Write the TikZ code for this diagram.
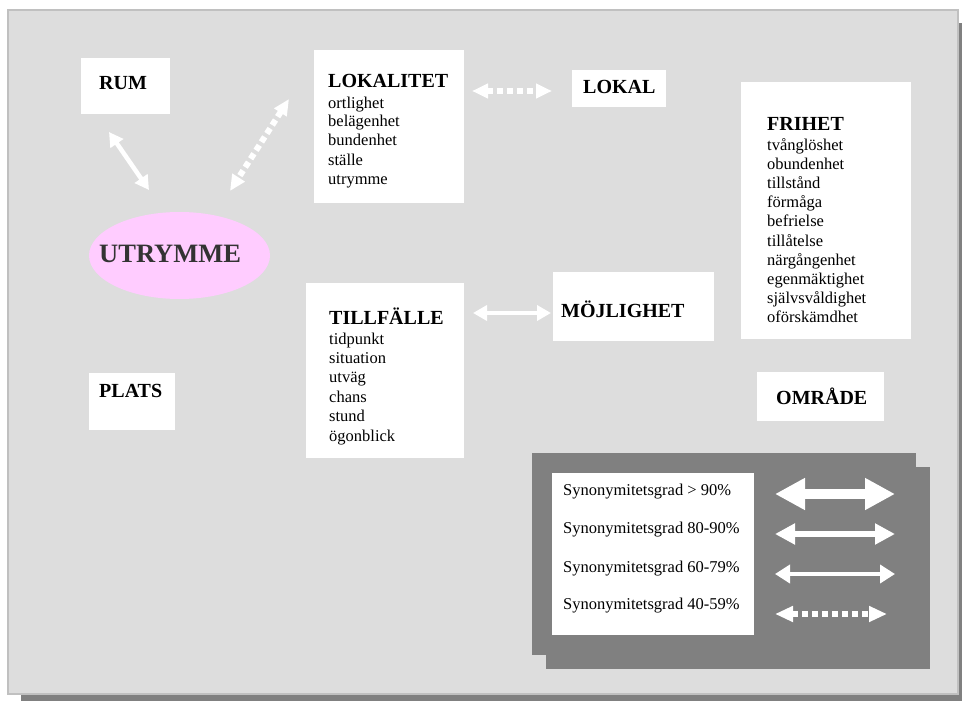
\documentclass[tikz,border=0pt]{standalone}
\usepackage{fontspec}
\setmainfont{Liberation Serif}
\usetikzlibrary{arrows.meta,shapes.geometric}
\definecolor{panelgray}{HTML}{DDDDDD}
\definecolor{panelline}{HTML}{C0C0C0}
\definecolor{shadowgray}{HTML}{808080}
\definecolor{pinkfill}{HTML}{FFCCFF}
\definecolor{darktext}{HTML}{333333}
\tikzset{
  box/.style={fill=white, draw=none, anchor=north west, inner sep=0pt},
  head/.style={anchor=base west, inner sep=0pt, font=\fontsize{20}{24}\selectfont\bfseries},
  word/.style={anchor=base west, inner sep=0pt, font=\fontsize{16.5}{19}\selectfont},
  solidarr/.style={white, line width=4.5pt, {Triangle[length=14pt,width=15pt]}-{Triangle[length=14pt,width=15pt]}},
  dotarr/.style={white, line width=6pt, dash pattern=on 6pt off 4pt, {Triangle[length=16pt,width=14pt]}-{Triangle[length=16pt,width=14pt]}},
}
\begin{document}
\begin{tikzpicture}[x=1pt,y=-1pt]
\useasboundingbox (0,0) rectangle (962,701);
% panel with shadow
\fill[shadowgray] (21,23) rectangle (970,710);
\filldraw[fill=panelgray, draw=panelline, line width=2pt] (8,10) rectangle (958,694);

% boxes
\node[box, minimum width=89pt, minimum height=56pt] (rum) at (81,58) {};
\node[head] at (99,90) {RUM};

\node[box, minimum width=150pt, minimum height=153pt] (lokalitet) at (314,50) {};
\node[head] at (328,88) {LOKALITET};
\node[word] at (328,108) {ortlighet};
\node[word] at (328,127) {belägenhet};
\node[word] at (328,146) {bundenhet};
\node[word] at (328,165) {ställe};
\node[word] at (328,184) {utrymme};

\node[box, minimum width=94pt, minimum height=37pt] (lokal) at (572,70) {};
\node[head] at (583,94) {LOKAL};

\node[ellipse, fill=pinkfill, minimum width=181pt, minimum height=87pt, inner sep=0pt] (utrymme) at (179.5,255.5) {};
\node[anchor=base west, inner sep=0pt, font=\fontsize{26.5}{30}\selectfont\bfseries, text=darktext] at (99,262) {UTRYMME};

\node[box, minimum width=86pt, minimum height=57pt] (plats) at (89,373) {};
\node[head] at (99,397) {PLATS};

\node[box, minimum width=158pt, minimum height=175pt] (tillfalle) at (306,283) {};
\node[head] at (329,324) {TILLFÄLLE};
\node[word] at (329,344) {tidpunkt};
\node[word] at (329,363.4) {situation};
\node[word] at (329,382.8) {utväg};
\node[word] at (329,402.2) {chans};
\node[word] at (329,421.6) {stund};
\node[word] at (329,441) {ögonblick};

\node[box, minimum width=161pt, minimum height=69pt] (mojlighet) at (553,272) {};
\node[head] at (561,317) {MÖJLIGHET};

\node[box, minimum width=170pt, minimum height=257pt] (frihet) at (741,82) {};
\node[head] at (767,130) {FRIHET};
\node[word] at (767,150) {tvånglöshet};
\node[word] at (767,169.2) {obundenhet};
\node[word] at (767,188.4) {tillstånd};
\node[word] at (767,207.6) {förmåga};
\node[word] at (767,226.8) {befrielse};
\node[word] at (767,246) {tillåtelse};
\node[word] at (767,265.2) {närgångenhet};
\node[word] at (767,284.4) {egenmäktighet};
\node[word] at (767,303.6) {självsvåldighet};
\node[word] at (767,322.8) {oförskämdhet};

\node[box, minimum width=127pt, minimum height=49pt] (omrade) at (757,372) {};
\node[head] at (776,404) {OMRÅDE};

% connectors
\coordinate (rumA) at (109,132);
\coordinate (utrA) at (149,190);
\draw[solidarr] (rumA) -- (utrA);
\coordinate (lokA) at (289,99);
\coordinate (utrB) at (230,191);
\draw[dotarr] (lokA) -- (utrB);
\coordinate (lokB) at (472,91);
\coordinate (lokC) at (552,91);
\draw[dotarr] (lokB) -- (lokC);
\coordinate (tilA) at (473,313);
\coordinate (mojA) at (551,313);
\draw[solidarr] (tilA) -- (mojA);

% legend
\fill[shadowgray] (532,453) rectangle (916,655);
\fill[shadowgray] (546,467) rectangle (930,669);
\node[box, minimum width=202pt, minimum height=162pt] (legend) at (552,473) {};
\node[word] at (563,495) {Synonymitetsgrad > 90\%};
\node[word] at (563,533.5) {Synonymitetsgrad 80-90\%};
\node[word] at (563,572) {Synonymitetsgrad 60-79\%};
\node[word] at (563,609) {Synonymitetsgrad 40-59\%};
\coordinate (l1a) at (775,494); \coordinate (l1b) at (895,494);
\coordinate (l2a) at (775,534); \coordinate (l2b) at (895,534);
\coordinate (l3a) at (775,574); \coordinate (l3b) at (895,574);
\coordinate (l4a) at (775,614); \coordinate (l4b) at (887,614);
\draw[white, line width=10pt, {Triangle[length=30pt,width=30pt]}-{Triangle[length=30pt,width=30pt]}] (l1a) -- (l1b);
\draw[white, line width=6pt, {Triangle[length=20pt,width=20pt]}-{Triangle[length=20pt,width=20pt]}] (l2a) -- (l2b);
\draw[white, line width=4.5pt, {Triangle[length=15pt,width=18pt]}-{Triangle[length=15pt,width=18pt]}] (l3a) -- (l3b);
\draw[white, line width=6pt, dash pattern=on 6pt off 4pt, {Triangle[length=18pt,width=15pt]}-{Triangle[length=18pt,width=15pt]}] (l4a) -- (l4b);
\end{tikzpicture}
\end{document}
